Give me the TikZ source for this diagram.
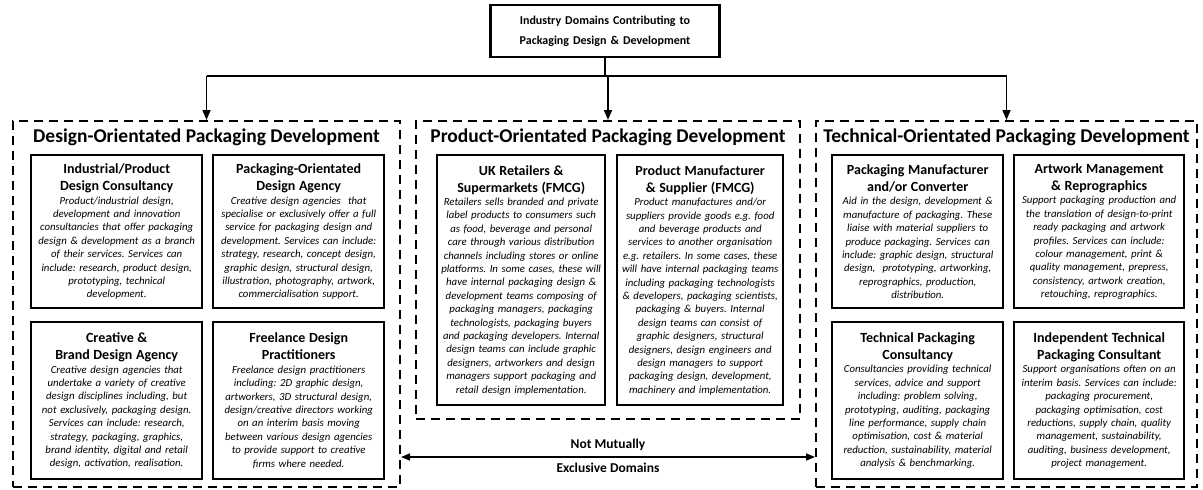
\documentclass[tikz,border=0pt]{standalone}
\usepackage{fontspec}
\setmainfont{Carlito}
\frenchspacing
\usetikzlibrary{arrows.meta,positioning}
\newcommand{\entityhead}[1]{{\fontsize{14}{17}\selectfont\upshape\bfseries #1\par}}
\tikzset{
    entity/.style={
    rectangle,draw=black,line width=2.4pt,align=center,inner sep=2pt,anchor=north west,
    font=\fontsize{10.8}{13.4}\selectfont\itshape
    },
    domainbox/.style={
    rectangle,draw=black,line width=2pt,dash pattern=on 9pt off 6pt,anchor=north west
    },
    domaintitle/.style={
    font=\fontsize{19.5}{23}\selectfont\bfseries
    },
    topbox/.style={
    rectangle,draw=black,line width=2.4pt,align=center,minimum height=52pt,
    font=\fontsize{12}{20}\selectfont\bfseries
    },
    link/.style={
    line width=1.6pt
    },
    flow/.style={
    line width=1.6pt,-{Triangle[length=10pt,width=8pt]}
    },
    both/.style={
    line width=1.6pt,{Triangle[length=9pt,width=7pt]}-{Triangle[length=9pt,width=7pt]}
    },
    remark/.style={
    font=\fontsize{13.5}{16}\selectfont\bfseries
    },
}
\begin{document}
\begin{tikzpicture}[x=1pt,y=-1pt]
   \useasboundingbox (0,0) rectangle (1203,490);
   % top
   \node[topbox,text width=222pt] (domains) at (605,31) {Industry Domains Contributing to\\Packaging Design \& Development};
   % dashed domains
   \node[domainbox,minimum width=387pt,minimum height=366pt] (design) at (12,120) {};
   \node[domainbox,minimum width=384pt,minimum height=298pt] (product) at (415,120) {};
   \node[domainbox,minimum width=381pt,minimum height=366pt] (technical) at (815,120) {};
   \node[domaintitle] (designtitle) at (design.north |- 0,137) {Design-Orientated Packaging Development};
   \node[domaintitle] (producttitle) at (product.north |- 0,137) {Product-Orientated Packaging Development};
   \node[domaintitle] (technicaltitle) at (technical.north |- 0,137) {Technical-Orientated Packaging Development};

   % design-orientated
   \node[entity,text width=167pt,minimum height=153pt] (indcons) at (30,154) {\entityhead{Industrial/Product\\Design Consultancy}
     Product/industrial design,\\development and innovation\\consultancies that offer packaging\\design \& development as a branch\\of their services. Services can\\include: research, product design,\\prototyping, technical\\development.};
   \node[entity,text width=167pt,minimum height=153pt] (pkgagency) at (212,154) {\entityhead{Packaging-Orientated\\Design Agency}
     Creative design agencies~ that\\specialise or exclusively offer a full\\service for packaging design and\\development. Services can include:\\strategy, research, concept design,\\graphic design, structural design,\\illustration, photography, artwork,\\commercialisation support.};
   \node[entity,text width=167pt,minimum height=157pt] (brandagency) at (30,321) {\entityhead{Creative \&\\Brand Design Agency}
     Creative design agencies that\\undertake a variety of creative\\design disciplines including, but\\not exclusively, packaging design.\\Services can include: research,\\strategy, packaging, graphics,\\brand identity, digital and retail\\design, activation, realisation.};
   \node[entity,text width=167pt,minimum height=157pt] (freelance) at (212,321) {\entityhead{Freelance Design\\Practitioners}
     Freelance design practitioners\\including: 2D graphic design,\\artworkers, 3D structural design,\\design/creative directors working\\on an interim basis moving\\between various design agencies\\to provide support to creative\\firms where needed.};

   % product-orientated
   \node[entity,text width=164pt,minimum height=250pt] (retailers) at (436,154) {\entityhead{UK Retailers \&\\Supermarkets (FMCG)}
     Retailers sells branded and private\\label products to consumers such\\as food, beverage and personal\\care through various distribution\\channels including stores or online\\platforms. In some cases, these will\\have internal packaging design \&\\development teams composing of\\packaging managers, packaging\\technologists, packaging buyers\\and packaging developers. Internal\\design teams can include graphic\\designers, artworkers and design\\managers support packaging and\\retail design implementation.};
   \node[entity,text width=162pt,minimum height=250pt] (manufacturer) at (616,154) {\entityhead{Product Manufacturer\\\& Supplier (FMCG)}
     Product manufactures and/or\\suppliers provide goods e.g. food\\and beverage products and\\services to another organisation\\e.g. retailers. In some cases, these\\will have internal packaging teams\\including packaging technologists\\\& developers, packaging scientists,\\packaging \& buyers. Internal\\design teams can consist of\\graphic designers, structural\\designers, design engineers and\\design managers to support\\packaging design, development,\\machinery and implementation.};

   % technical-orientated
   \node[entity,text width=167pt,minimum height=153pt] (converter) at (831,154) {\entityhead{Packaging Manufacturer\\and/or Converter}
     Aid in the design, development \&\\manufacture of packaging. These\\liaise with material suppliers to\\produce packaging. Services can\\include: graphic design, structural\\design,~ prototyping, artworking,\\reprographics, production,\\distribution.};
   \node[entity,text width=166pt,minimum height=153pt] (artwork) at (1013,154) {\entityhead{Artwork Management\\\& Reprographics}
     Support packaging production and\\the translation of design-to-print\\ready packaging and artwork\\profiles. Services can include:\\colour management, print \&\\quality management, prepress,\\consistency, artwork creation,\\retouching, reprographics.};
   \node[entity,text width=167pt,minimum height=157pt] (techcons) at (831,321) {\entityhead{Technical Packaging\\Consultancy}
     Consultancies providing technical\\services, advice and support\\including: problem solving,\\prototyping, auditing, packaging\\line performance, supply chain\\optimisation, cost \& material\\reduction, sustainability, material\\analysis \& benchmarking.};
   \node[entity,text width=166pt,minimum height=157pt] (independent) at (1013,321) {\entityhead{Independent Technical\\Packaging Consultant}
     Support organisations often on an\\interim basis. Services can include:\\packaging procurement,\\packaging optimisation, cost\\reductions, supply chain, quality\\management, sustainability,\\auditing, business development,\\project management.};

   % connectors
   \coordinate (hub) at (605,76);
   \draw[link] (domains.south) -- (hub);
   \draw[link] (design.north |- hub) -- (technical.north |- hub);
   \draw[flow] (design.north |- hub) -- (design.north);
   \draw[flow] (product.north |- hub) -- (product.north);
   \draw[flow] (technical.north |- hub) -- (technical.north);

   % not mutually exclusive
   \coordinate (nmleft) at (design.east |- 0,457);
   \coordinate (nmright) at (technical.west |- 0,457);
   \draw[both] (nmleft) -- (nmright)
     node[midway,above=2pt,remark] {Not Mutually}
     node[midway,below=2pt,remark] {Exclusive Domains};
\end{tikzpicture}
\end{document}
